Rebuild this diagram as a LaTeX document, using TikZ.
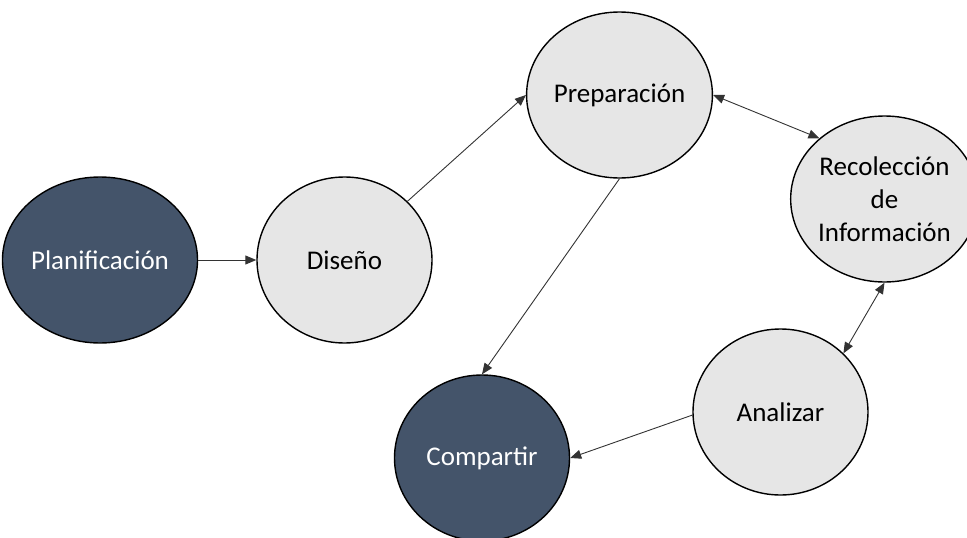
\documentclass[tikz,border=0pt]{standalone}
\usepackage{fontspec}
\setmainfont{Carlito}
\usetikzlibrary{shapes.geometric,arrows.meta}
\definecolor{darkslate}{HTML}{44546A}
\definecolor{lightstage}{HTML}{E6E6E6}
\tikzset{
  stage/.style={ellipse, draw=black, line width=1.4pt, minimum width=175pt,
    minimum height=166pt, inner sep=0pt, align=center,
    font=\fontsize{27}{33}\selectfont},
  darkstage/.style={stage, fill=darkslate, text=white},
  lightstage/.style={stage, fill=lightstage, text=black},
  link/.style={draw=black!80, line width=0.9pt,
    -{Triangle[length=11pt,width=9pt]}},
  twoway/.style={draw=black!80, line width=0.9pt,
    {Triangle[length=11pt,width=9pt]}-{Triangle[length=11pt,width=9pt]}}
}
\begin{document}
\begin{tikzpicture}[x=1pt,y=-1pt]
  \useasboundingbox (0,0) rectangle (967,538);
  \node[darkstage]  (plan) at (100,260)   {Planificación};
  \node[lightstage] (dis)  at (344.5,260) {Diseño};
  \node[lightstage] (prep) at (619.5,95)  {Preparación};
  \node[lightstage] (rec)  at (884.5,199) {Recolección\\de\\Información};
  \node[lightstage] (ana)  at (780.5,412) {Analizar};
  \node[darkstage]  (comp) at (482,458)   {Compartir};

  \draw[link]   (plan.east) -- (dis.west);
  \draw[link]   (dis.43) -- (prep.west);
  \draw[link]   (prep.south) -- (comp.north);
  \draw[twoway] (prep.east) -- (rec.137);
  \draw[twoway] (rec.south) -- (ana.43);
  \draw[link]   (ana.182) -- (comp.east);
\end{tikzpicture}
\end{document}
